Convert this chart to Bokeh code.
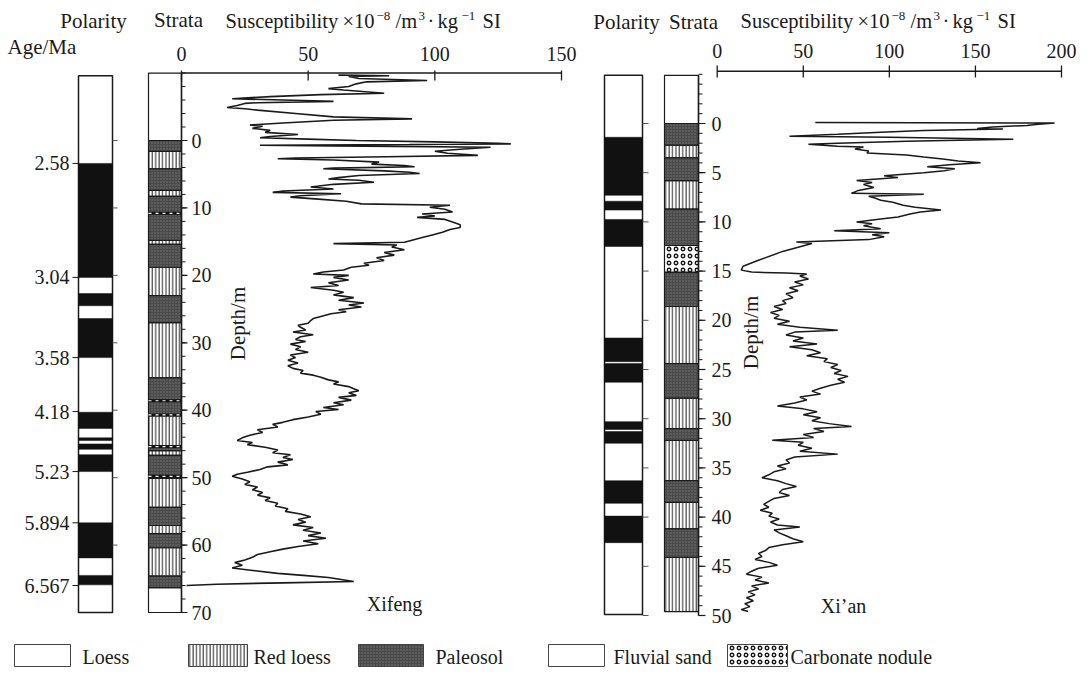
import numpy as np
from bokeh.plotting import figure
from bokeh.models import Range1d
from bokeh.core.properties import value
from bokeh.embed import file_html
from bokeh.resources import INLINE

# ------------------------------------------------------------------ data
# Xifeng susceptibility profile (depth in m, susceptibility x1e-8 m3/kg)
xf_depth = [
    -9.7, -9.6, -9.5, -9.2, -8.9, -8.7, -8.4, -8.0, -7.7, -7.5,
    -7.0, -6.8, -6.5, -6.2, -6.0, -5.8, -5.6, -5.5, -5.2, -4.9,
    -4.7, -4.5, -4.0, -3.5, -3.2, -3.0, -2.6, -2.3, -2.1, -1.8,
    -1.5, -1.2, -0.9, -0.6, -0.4, -0.2, 0.0, 0.2, 0.4, 0.5,
    0.6, 0.7, 0.8, 1.0, 1.3, 1.6, 1.9, 2.2, 2.4, 2.6,
    2.7, 2.9, 3.2, 3.5, 3.7, 3.9, 4.1, 4.2, 4.5, 4.7,
    4.9, 5.2, 5.5, 5.7, 5.9, 6.2, 6.5, 6.9, 7.2, 7.5,
    7.7, 7.9, 8.2, 8.4, 8.7, 9.0, 9.4, 9.6, 9.9, 10.2,
    10.6, 10.9, 11.2, 11.4, 11.7, 12.1, 12.5, 12.9, 13.2, 13.6,
    14.0, 14.4, 14.8, 15.1, 15.3, 15.5, 15.8, 16.2, 16.6, 17.0,
    17.4, 17.8, 18.2, 18.5, 18.8, 19.2, 19.5, 19.8, 20.0, 20.3,
    20.7, 21.1, 21.5, 21.8, 22.2, 22.5, 22.9, 23.3, 23.7, 24.1,
    24.4, 24.7, 25.1, 25.4, 25.7, 26.1, 26.4, 26.7, 27.1, 27.4,
    27.7, 28.1, 28.4, 28.8, 29.1, 29.5, 29.8, 30.2, 30.6, 31.0,
    31.4, 31.8, 32.2, 32.6, 33.0, 33.4, 33.8, 34.1, 34.5, 34.8,
    35.1, 35.5, 35.8, 36.1, 36.5, 36.8, 37.1, 37.4, 37.8, 38.1,
    38.5, 38.9, 39.2, 39.6, 39.9, 40.2, 40.6, 41.0, 41.4, 41.8,
    42.1, 42.5, 42.9, 43.3, 43.7, 44.1, 44.5, 44.8, 45.1, 45.5,
    45.9, 46.3, 46.6, 47.0, 47.3, 47.7, 48.1, 48.4, 48.8, 49.2,
    49.5, 49.8, 50.2, 50.6, 51.0, 51.4, 51.8, 52.2, 52.6, 53.0,
    53.4, 53.8, 54.2, 54.6, 55.0, 55.4, 55.8, 56.2, 56.6, 57.0,
    57.4, 57.8, 58.2, 58.6, 59.0, 59.4, 59.8, 60.2, 60.6, 61.0,
    61.4, 61.8, 62.2, 62.6, 63.0, 63.4, 63.8, 64.2, 64.5, 64.8,
    65.1, 65.4, 65.6, 65.8, 66.0,
]
xf_sus = [
    62, 82, 66, 70, 97, 73, 69, 66, 58, 64,
    80, 55, 35, 20, 40, 60, 30, 25, 22, 18,
    25, 30, 45, 60, 91, 60, 40, 27, 32, 28,
    35, 33, 46, 35, 31, 50, 69, 100, 125, 130,
    90, 31, 60, 122, 110, 100, 105, 117, 81, 45,
    38, 60, 78, 75, 88, 92, 60, 56, 80, 90,
    94, 70, 62, 58, 70, 76, 60, 51, 60, 40,
    36, 63, 47, 43, 54, 65, 71, 106, 98, 104,
    107, 95, 100, 93, 104, 107, 110, 110, 106, 103,
    99, 95, 91, 88, 60, 85, 83, 88, 80, 84,
    77, 80, 72, 74, 67, 64, 56, 52, 66, 60,
    66, 58, 62, 51, 60, 64, 60, 68, 62, 72,
    66, 71, 62, 65, 59, 55, 52, 51, 50, 46,
    47, 49, 44, 52, 47, 45, 49, 43, 47, 45,
    50, 43, 45, 42, 46, 42, 44, 48, 47, 52,
    55, 58, 62, 60, 66, 68, 70, 66, 69, 62,
    67, 60, 64, 56, 62, 53, 55, 50, 44, 40,
    36, 38, 30, 32, 27, 24, 22, 28, 26, 33,
    38, 36, 43, 40, 44, 38, 42, 34, 31, 26,
    22, 20, 24, 27, 25, 30, 28, 32, 30, 35,
    33, 38, 37, 42, 41, 47, 51, 46, 49, 44,
    52, 48, 55, 50, 57, 48, 54, 46, 40, 35,
    30, 28, 25, 21, 24, 20, 29, 38, 48, 58,
    63, 68, 40, 14, 2,
]

# Xi'an susceptibility profile
xa_depth = [
    -0.1, -0.05, 0.1, 0.2, 0.35, 0.5, 0.55, 0.7, 0.9, 1.1,
    1.3, 1.4, 1.6, 1.7, 1.8, 2.0, 2.1, 2.3, 2.4, 2.6,
    2.8, 3.0, 3.2, 3.4, 3.6, 3.8, 4.0, 4.2, 4.4, 4.6,
    4.8, 5.0, 5.3, 5.5, 5.8, 6.0, 6.2, 6.5, 6.8, 7.1,
    7.2, 7.4, 7.6, 7.8, 8.0, 8.3, 8.5, 8.8, 9.0, 9.2,
    9.5, 9.7, 10.0, 10.2, 10.4, 10.7, 10.9, 11.1, 11.3, 11.5,
    11.8, 12.05, 12.2, 13.0, 13.9, 14.5, 14.9, 15.1, 15.2, 15.3,
    15.5, 15.8, 16.1, 16.4, 16.7, 17.0, 17.3, 17.7, 18.0, 18.3,
    18.6, 18.9, 19.2, 19.5, 19.8, 20.1, 20.4, 20.7, 21.0, 21.2,
    21.5, 21.8, 22.1, 22.4, 22.7, 23.0, 23.3, 23.6, 23.9, 24.2,
    24.5, 24.8, 25.1, 25.4, 25.7, 26.0, 26.3, 26.6, 26.9, 27.2,
    27.5, 27.8, 28.1, 28.4, 28.7, 29.0, 29.3, 29.6, 29.9, 30.2,
    30.5, 30.8, 31.0, 31.3, 31.6, 31.9, 32.2, 32.4, 32.7, 33.0,
    33.3, 33.6, 33.9, 34.2, 34.5, 34.8, 35.1, 35.4, 35.7, 36.0,
    36.3, 36.6, 36.9, 37.2, 37.5, 37.8, 38.1, 38.4, 38.7, 39.0,
    39.3, 39.6, 39.9, 40.2, 40.5, 40.8, 41.0, 41.3, 41.6, 41.9,
    42.2, 42.5, 42.8, 43.1, 43.4, 43.7, 44.0, 44.3, 44.6, 44.9,
    45.2, 45.5, 45.8, 46.1, 46.4, 46.7, 47.0, 47.3, 47.6, 47.9,
    48.2, 48.5, 48.8, 49.1, 49.4, 49.6,
]
xa_sus = [
    57, 196, 185, 180, 160, 151, 166, 120, 95, 70,
    42, 100, 172, 140, 110, 70, 53, 70, 85, 80,
    88, 87, 110, 120, 131, 140, 153, 135, 122, 138,
    132, 120, 97, 105, 81, 90, 85, 91, 82, 78,
    120, 88, 92, 95, 102, 108, 115, 130, 118, 112,
    105, 95, 81, 90, 85, 95, 68, 100, 90, 97,
    88, 46, 55, 38, 24, 15, 14, 20, 40, 52,
    48, 53, 45, 50, 42, 47, 40, 44, 38, 40,
    33, 38, 31, 36, 33, 42, 35, 48, 70, 45,
    40, 50, 44, 58, 42, 55, 60, 52, 64, 62,
    70, 66, 72, 68, 76, 70, 74, 66, 60, 55,
    60, 48, 52, 45, 35, 50, 58, 50, 60, 55,
    65, 78, 56, 62, 50, 56, 32, 50, 47, 55,
    48, 70, 45, 40, 42, 35, 40, 33, 30, 26,
    35, 40, 46, 38, 36, 42, 33, 30, 27, 30,
    25, 32, 30, 36, 31, 35, 48, 33, 36, 40,
    44, 50, 38, 30, 28, 24, 26, 22, 30, 35,
    24, 20, 17, 26, 22, 30, 20, 24, 18, 22,
    17, 21, 16, 19, 14, 18,
]

# Polarity (normal = black) intervals, depth in m
xf_pol_span = [-9.6, 70.0]
xf_pol_top = [3.4, 22.7, 26.4, 40.3, 44.1, 45.0, 46.6, 56.7, 64.5]
xf_pol_bot = [20.3, 24.5, 32.2, 42.7, 44.5, 45.8, 49.1, 61.9, 65.9]
xa_pol_span = [-4.9, 49.9]
xa_pol_top = [1.4, 7.9, 9.75, 21.8, 24.4, 30.3, 31.3, 36.3, 39.9]
xa_pol_bot = [7.3, 8.8, 12.5, 24.2, 26.3, 31.1, 32.5, 38.6, 42.6]

# Strata: L loess, R red loess, P paleosol, F fluvial sand, C carbonate nodule
xf_str_top = [-10, 0, 1.6, 4.2, 7.4, 8.3, 14.8, 15.4, 18.8, 23.0, 27.0, 35.2,
              40.8, 45.3, 46.0, 46.7, 50.1, 54.4, 57.1, 58.3, 60.4, 64.6, 66.3]
xf_str_bot = [0, 1.6, 4.2, 7.4, 8.3, 14.8, 15.4, 18.8, 23.0, 27.0, 35.2, 40.8,
              45.3, 46.0, 46.7, 50.1, 54.4, 57.1, 58.3, 60.4, 64.6, 66.3, 70.0]
xf_str_type = ["L", "P", "R", "P", "R", "P", "R", "P", "R", "P", "R", "P",
               "R", "P", "R", "P", "R", "P", "R", "P", "R", "P", "F"]
xf_thin_beds = [10.8, 38.6, 40.7, 45.4, 49.8]

xa_str_top = [-4.9, 0, 2.2, 3.5, 5.8, 8.7, 12.4, 15.1, 18.6, 24.4, 27.9, 31.0,
              32.2, 36.3, 38.5, 41.2, 44.1]
xa_str_bot = [0, 2.2, 3.5, 5.8, 8.7, 12.4, 15.1, 18.6, 24.4, 27.9, 31.0, 32.2,
              36.3, 38.5, 41.2, 44.1, 49.6]
xa_str_type = ["L", "P", "R", "P", "R", "P", "C", "P", "R", "P", "R", "P",
               "R", "P", "R", "P", "R"]

# Ages of polarity boundaries (Xifeng) and their depths
age_labels = ["2.58", "3.04", "3.58", "4.18", "5.23", "5.894", "6.567"]
age_depths = [3.4, 20.3, 32.2, 40.2, 49.1, 56.7, 66.0]

# Axis ticks
xf_sus_ticks = [0, 50, 100, 150]
xa_sus_ticks = [0, 50, 100, 150, 200]
xf_depth_ticks = [0, 10, 20, 30, 40, 50, 60, 70]
xa_depth_ticks = [0, 5, 10, 15, 20, 25, 30, 35, 40, 45, 50]

# Axis title pieces: (text, is_superscript)
title_parts = [("Susceptibility", False), ("\u00d710", False), ("\u22128", True),
               ("/m", False), ("3", True), ("\u00b7", False), ("kg", False),
               ("\u22121", True), ("SI", False)]

legend_labels = ["Loess", "Red loess", "Paleosol", "Fluvial sand", "Carbonate nodule"]
legend_types = ["L", "R", "P", "F", "C"]

# ------------------------------------------------------------------ layout
W, H = 1076, 667
TITLE_DX = [0, 117, 151, 170, 193, 202, 212, 236, 257]   # piece offsets (px)


def lin_range(pa, va, pb, vb, size, flip=False):
    k = (vb - va) / (pb - pa)
    v0 = va + (0 - pa) * k
    v1 = va + (size - pa) * k
    if flip:
        return Range1d(start=v1, end=v0)
    return Range1d(start=v0, end=v1)


SERIF = value("Liberation Serif")
INK = "#1a1a1a"

p = figure(width=W, height=H, x_range=Range1d(0, W), y_range=Range1d(H, 0),
           output_backend="svg", toolbar_location=None,
           x_axis_location=None, y_axis_location=None, min_border=0)
p.grid.visible = False
p.outline_line_color = None
p.background_fill_color = "white"
p.border_fill_color = "white"

p.extra_x_ranges = {
    "xf": lin_range(181, 0, 561, 150, W),
    "xa": lin_range(716.7, 0, 1061, 200, W),
}
p.extra_y_ranges = {
    "df": lin_range(140, 0, 612, 70, H, True),
    "da": lin_range(123, 0, 615, 50, H, True),
}

STYLE = {
    "L": dict(fill_color="white"),
    "F": dict(fill_color="white"),
    "R": dict(fill_color="white", hatch_pattern="vertical_line", hatch_color="#222222",
              hatch_scale=3.4, hatch_weight=1),
    "P": dict(fill_color="#4a4a4a", hatch_pattern="dot", hatch_color="#7a7a7a",
              hatch_scale=3, hatch_weight=1),
    "C": dict(fill_color="white", hatch_pattern="ring", hatch_color="#111111",
              hatch_scale=7, hatch_weight=1.3),
}


def draw_strata(tops, bots, types, left, right, yname):
    for t in ["L", "F", "R", "P", "C"]:
        idx = [i for i, tt in enumerate(types) if tt == t]
        if not idx:
            continue
        p.quad(left=left, right=right, top=[tops[i] for i in idx],
               bottom=[bots[i] for i in idx], y_range_name=yname,
               line_color=INK, line_width=1.2, **STYLE[t])


def draw_polarity(span, tops, bots, left, right, yname):
    p.quad(left=left, right=right, top=[span[0]], bottom=[span[1]], y_range_name=yname,
           fill_color="white", line_color=INK, line_width=1.5)
    p.quad(left=left, right=right, top=tops, bottom=bots, y_range_name=yname,
           fill_color="#111111", line_color="#111111", line_width=0.5)


def txt(x, y, s, size="20px", align="left", **kw):
    p.text(x=x, y=y, text=s, text_font=SERIF, text_font_size=size, text_align=align,
           text_baseline="middle", text_color=INK, **kw)


def draw_title(x0, y0):
    for (s, sup), dx in zip(title_parts, TITLE_DX):
        if sup:
            txt([x0 + dx], [y0 - 5], [s], size="13px")
        else:
            txt([x0 + dx], [y0], [s], size="20.5px")


# ---------------- Xifeng section
draw_polarity(xf_pol_span, xf_pol_top, xf_pol_bot, 78, 112, "df")
draw_strata(xf_str_top, xf_str_bot, xf_str_type, 148, 181, "df")
p.segment(x0=148, x1=181, y0=xf_thin_beds, y1=xf_thin_beds, y_range_name="df",
          line_color="#111111", line_width=3)
p.segment(x0=148, x1=181, y0=xf_thin_beds, y1=xf_thin_beds, y_range_name="df",
          line_color="white", line_width=1.2, line_dash="3 4")

p.segment(x0=72, x1=78, y0=age_depths, y1=age_depths, y_range_name="df",
          line_color=INK, line_width=1)
txt(69, age_depths, age_labels, align="right", y_range_name="df")
pol_ticks_xf = xf_depth_ticks[:-1]
p.segment(x0=112, x1=117, y0=pol_ticks_xf, y1=pol_ticks_xf, y_range_name="df",
          line_color="#555555", line_width=1)

minor_xf = list(range(-10, 71, 2))
p.segment(x0=181, x1=181, y0=[-10], y1=[70], y_range_name="df",
          line_color=INK, line_width=1.5)
p.segment(x0=181, x1=185, y0=minor_xf, y1=minor_xf, y_range_name="df",
          line_color=INK, line_width=1)
p.segment(x0=181, x1=187, y0=xf_depth_ticks, y1=xf_depth_ticks, y_range_name="df",
          line_color=INK, line_width=1.2)
txt(191, xf_depth_ticks, [str(v) for v in xf_depth_ticks], y_range_name="df")

p.segment(x0=[0], x1=[150], y0=72.6, y1=72.6, x_range_name="xf",
          line_color=INK, line_width=1.5)
p.segment(x0=xf_sus_ticks, x1=xf_sus_ticks, y0=70, y1=80, x_range_name="xf",
          line_color=INK, line_width=1.3)
txt(xf_sus_ticks, 53, [str(v) for v in xf_sus_ticks], align="center", x_range_name="xf")

p.line(x=xf_sus, y=xf_depth, x_range_name="xf", y_range_name="df",
       line_color=INK, line_width=1.6)

# ---------------- Xi'an section
draw_polarity(xa_pol_span, xa_pol_top, xa_pol_bot, 604, 642, "da")
draw_strata(xa_str_top, xa_str_bot, xa_str_type, 664, 698, "da")
p.segment(x0=642, x1=648, y0=xa_depth_ticks, y1=xa_depth_ticks, y_range_name="da",
          line_color="#555555", line_width=1)

minor_xa = list(range(-5, 51, 1))
p.segment(x0=698, x1=698, y0=[-4.9], y1=[50], y_range_name="da",
          line_color=INK, line_width=1.5)
p.segment(x0=698, x1=702, y0=minor_xa, y1=minor_xa, y_range_name="da",
          line_color=INK, line_width=1)
p.segment(x0=698, x1=705, y0=xa_depth_ticks, y1=xa_depth_ticks, y_range_name="da",
          line_color=INK, line_width=1.2)
txt(711, xa_depth_ticks, [str(v) for v in xa_depth_ticks], y_range_name="da")

p.segment(x0=[0], x1=[200], y0=70.7, y1=70.7, x_range_name="xa",
          line_color=INK, line_width=1.5)
p.segment(x0=xa_sus_ticks, x1=xa_sus_ticks, y0=65, y1=77, x_range_name="xa",
          line_color=INK, line_width=1.3)
txt(xa_sus_ticks, 50, [str(v) for v in xa_sus_ticks], align="center", x_range_name="xa")

p.line(x=xa_sus, y=xa_depth, x_range_name="xa", y_range_name="da",
       line_color=INK, line_width=1.5)

# ---------------- headers and labels
txt([93], [20], ["Polarity"], size="21px", align="center")
txt([7], [46], ["Age/Ma"], size="21px")
txt([178], [19], ["Strata"], size="21px", align="center")
draw_title(225, 20)
txt([626], [21], ["Polarity"], size="21px", align="center")
txt([693], [21], ["Strata"], size="21px", align="center")
draw_title(740, 20)

for xc, yc in [(237, 323), (750, 332)]:
    p.text(x=[xc], y=[yc], text=["Depth/m"], angle=np.pi / 2, text_font=SERIF,
           text_font_size="21px", text_align="center", text_baseline="middle",
           text_color=INK)
txt([394], [603], ["Xifeng"], align="center")
txt([843], [605], ["Xi\u2019an"], align="center")

# ---------------- legend
LEG_BOX_L = [14, 188, 358, 548, 727]
LEG_BOX_W = [56, 59, 65, 56, 60]
LEG_TEXT_X = [82, 253, 435, 613, 790]
for lab, t, bl, bw, tx in zip(legend_labels, legend_types, LEG_BOX_L, LEG_BOX_W, LEG_TEXT_X):
    st = dict(STYLE[t])
    p.quad(left=[bl], right=[bl + bw], top=[644], bottom=[666],
           line_color="#444444", line_width=1, **st)
    txt([tx], [656], [lab], size="20px")

open("out.html", "w").write(file_html(p, INLINE))
